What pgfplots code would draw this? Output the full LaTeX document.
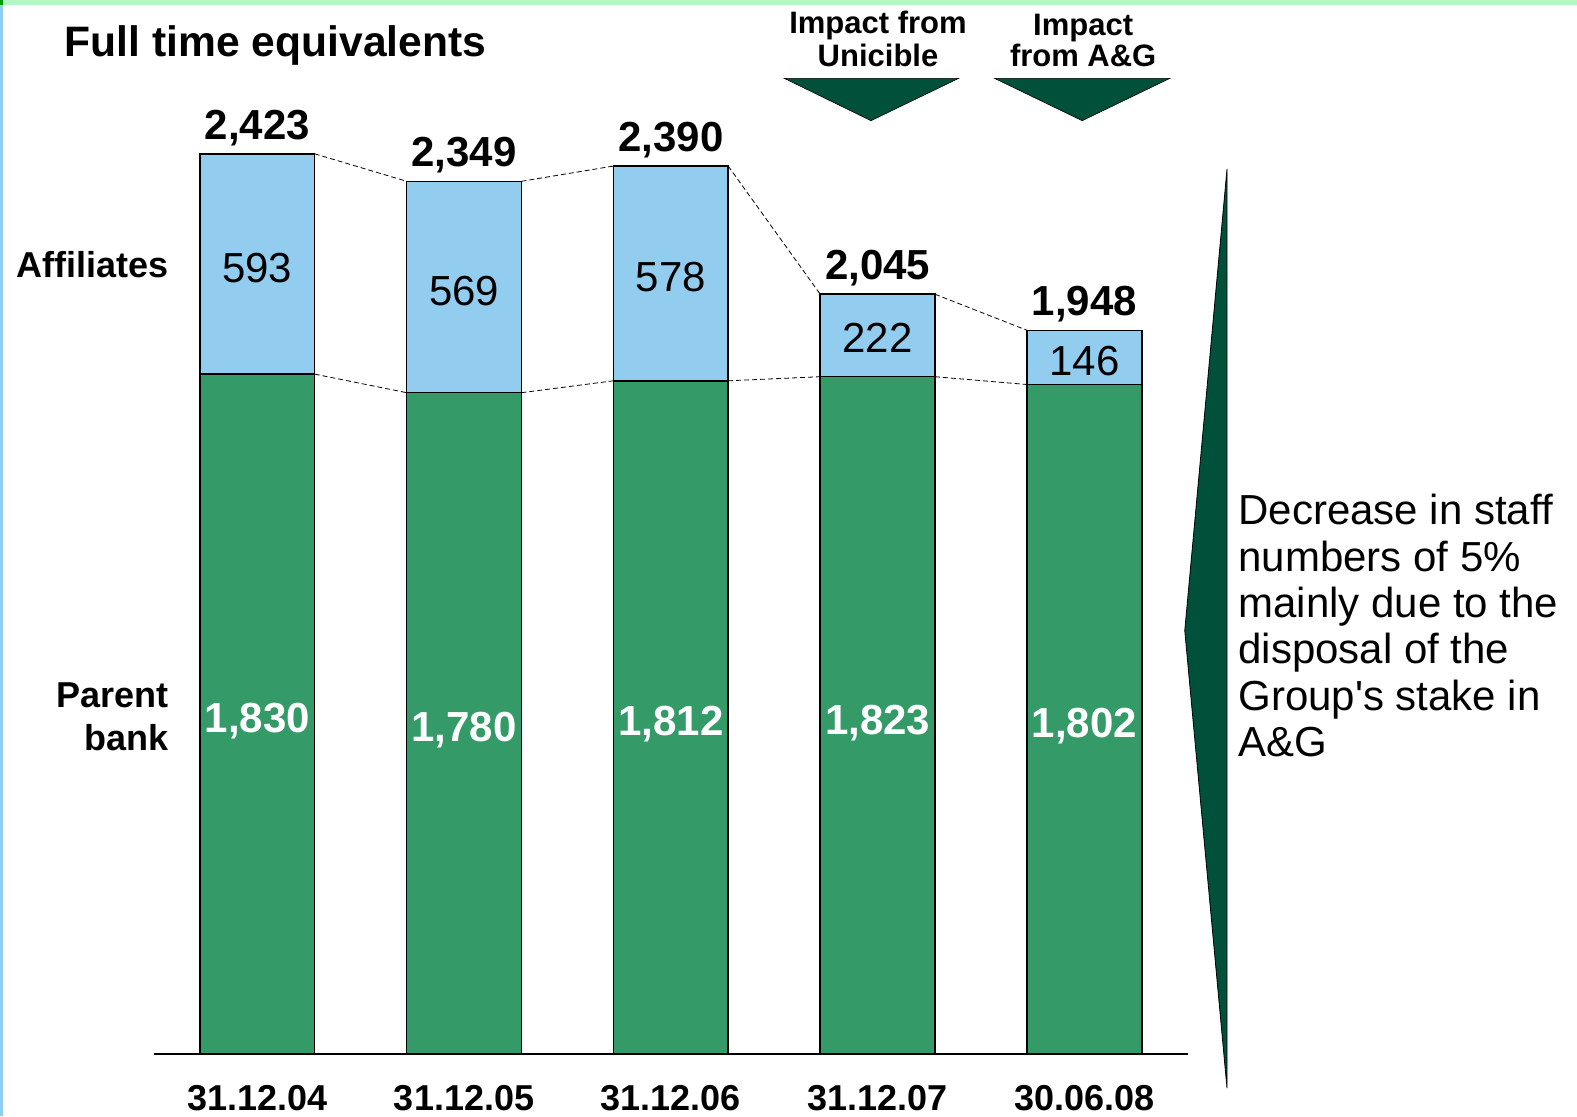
\documentclass[border=0pt]{standalone}
\usepackage{fontspec}
\setmainfont{Liberation Sans}[Ligatures=TeXOff]
\usepackage{pgfplots}
\pgfplotsset{compat=1.18}
\definecolor{barblue}{RGB}{146,205,240}
\definecolor{bargreen}{RGB}{52,155,104}
\definecolor{darkgreen}{RGB}{0,80,58}
\definecolor{topgreen}{RGB}{180,247,197}
\definecolor{leftblue}{RGB}{143,205,242}
\begin{document}
\begin{tikzpicture}
\begin{scope}[shift={(-76.94pt,527.0pt)},x=0.50287pt,y=-0.50287pt]
\useasboundingbox (0,0) rectangle (1568,1110);
\fill[white] (0,0) rectangle (1568,1110);
\fill[topgreen] (0,0) rectangle (1568,5);
\fill[leftblue] (0,5) rectangle (3,1110);
\fill[green!60!black] (0,0) rectangle (3,5);
\end{scope}
\begin{axis}[at={(0,0)}, anchor=south west, scale only axis,
  width=516.95pt, height=527.0pt,
  xmin=-0.5, xmax=4.5, ymin=0, ymax=2837, enlargelimits=false,
  ybar stacked, bar width=0.555,
  axis x line*=bottom, axis y line=none,
  x axis line style={-, line width=0.75pt},
  xtick={0,1,2,3,4},
  xticklabels={31.12.04,31.12.05,31.12.06,31.12.07,30.06.08},
  major tick length=0pt,
  xticklabel style={font=\fontsize{18}{20}\selectfont\bfseries, anchor=north, inner sep=0pt, yshift=-15.5pt},
  clip=false]
\addplot[fill=bargreen, draw=black, line width=0.75pt] coordinates {(0,1830) (1,1780) (2,1812) (3,1823) (4,1802)};
\addplot[fill=barblue, draw=black, line width=0.75pt] coordinates {(0,593) (1,569) (2,578) (3,222) (4,146)};
% connector end points
\coordinate (t0r) at (axis cs:0.2775,2423); \coordinate (t1l) at (axis cs:0.7225,2349);
\coordinate (t1r) at (axis cs:1.2775,2349); \coordinate (t2l) at (axis cs:1.7225,2390);
\coordinate (t2r) at (axis cs:2.2775,2390); \coordinate (t3l) at (axis cs:2.7225,2045);
\coordinate (t3r) at (axis cs:3.2775,2045); \coordinate (t4l) at (axis cs:3.7225,1948);
\coordinate (g0r) at (axis cs:0.2775,1830); \coordinate (g1l) at (axis cs:0.7225,1780);
\coordinate (g1r) at (axis cs:1.2775,1780); \coordinate (g2l) at (axis cs:1.7225,1812);
\coordinate (g2r) at (axis cs:2.2775,1812); \coordinate (g3l) at (axis cs:2.7225,1823);
\coordinate (g3r) at (axis cs:3.2775,1823); \coordinate (g4l) at (axis cs:3.7225,1802);
% label anchors
\coordinate (T0) at (axis cs:0,2423); \coordinate (T1) at (axis cs:1,2349); \coordinate (T2) at (axis cs:2,2390);
\coordinate (T3) at (axis cs:3,2045); \coordinate (T4) at (axis cs:4,1948);
\coordinate (A0) at (axis cs:0,2076); \coordinate (A1) at (axis cs:1,2014); \coordinate (A2) at (axis cs:2,2052);
\coordinate (A3) at (axis cs:3,1887); \coordinate (A4) at (axis cs:4,1827);
\coordinate (P0) at (axis cs:0,866); \coordinate (P1) at (axis cs:1,842); \coordinate (P2) at (axis cs:2,858);
\coordinate (P3) at (axis cs:3,861); \coordinate (P4) at (axis cs:4,853);
\end{axis}
\foreach \a/\b in {t0r/t1l,t1r/t2l,t2r/t3l,t3r/t4l,g0r/g1l,g1r/g2l,g2r/g3l,g3r/g4l}{
  \draw[line width=0.4pt, dash pattern=on 2.5pt off 1.5pt] (\a) -- (\b);
}
\foreach \c/\v in {T0/{2,423},T1/{2,349},T2/{2,390},T3/{2,045},T4/{1,948}}{
  \node[anchor=base, inner sep=0pt, yshift=7.2pt, font=\fontsize{21}{25}\selectfont\bfseries] at (\c) {\v};
}
\foreach \c/\v in {A0/593,A1/569,A2/578,A3/222,A4/146}{
  \node[anchor=base, inner sep=0pt, font=\fontsize{21}{25}\selectfont] at (\c) {\v};
}
\foreach \c/\v in {P0/{1,830},P1/{1,780},P2/{1,812},P3/{1,823},P4/{1,802}}{
  \node[anchor=base, inner sep=0pt, text=white, font=\fontsize{21}{25}\selectfont\bfseries] at (\c) {\v};
}
\begin{scope}[shift={(-76.94pt,527.0pt)},x=0.50287pt,y=-0.50287pt]
\node[anchor=base west, inner sep=0pt, font=\fontsize{21.3}{25}\selectfont\bfseries] at (64,56) {Full time equivalents};
\node[anchor=base east, inner sep=0pt, font=\fontsize{18}{21}\selectfont\bfseries] at (168,276) {Affiliates};
\node[anchor=base east, inner sep=0pt, font=\fontsize{18}{21}\selectfont\bfseries] at (168,703) {Parent};
\node[anchor=base east, inner sep=0pt, font=\fontsize{18}{21}\selectfont\bfseries] at (168,746) {bank};
\node[anchor=base, inner sep=0pt, font=\fontsize{15.5}{18}\selectfont\bfseries] at (873,33) {Impact from};
\node[anchor=base, inner sep=0pt, font=\fontsize{15.5}{18}\selectfont\bfseries] at (873,66) {Unicible};
\node[anchor=base, inner sep=0pt, font=\fontsize{15.5}{18}\selectfont\bfseries] at (1077,35) {Impact};
\node[anchor=base, inner sep=0pt, font=\fontsize{15.5}{18}\selectfont\bfseries] at (1077,66) {from A\&G};
\filldraw[fill=darkgreen, draw=black, line width=0.3pt] (780,78) -- (953,78) -- (866,120) -- cycle;
\filldraw[fill=darkgreen, draw=black, line width=0.3pt] (989,78) -- (1163,78) -- (1076,120) -- cycle;
\filldraw[fill=darkgreen, draw=black, line width=0.4pt] (1220,168) -- (1220,1082) -- (1178,627) -- cycle;
\foreach \y/\t in {522/{Decrease in staff},568/{numbers of 5\%},614/{mainly due to the},660/{disposal of the},706/{Group's stake in},752/{A\&G}}{
  \node[anchor=base west, inner sep=0pt, font=\fontsize{21}{25}\selectfont] at (1231,\y) {\t};
}
\end{scope}
\end{tikzpicture}
\end{document}
